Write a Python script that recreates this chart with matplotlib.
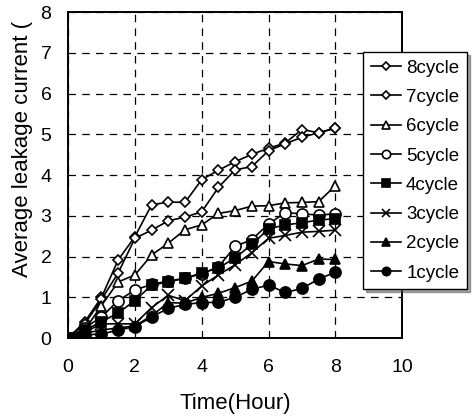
import numpy as np
import matplotlib.pyplot as plt

plt.rcParams['font.family'] = ['Liberation Sans', 'DejaVu Sans']

# Datos (tiempo en horas)
t = [0, 0.5, 1, 1.5, 2, 2.5, 3, 3.5, 4, 4.5, 5, 5.5, 6, 6.5, 7, 7.5, 8]
c8 = [0, 0.4, 1.0, 1.92, 2.49, 3.27, 3.34, 3.33, 3.89, 4.12, 4.33, 4.51, 4.66, 4.79, 5.12, 5.04, 5.16]
c7 = [0, 0.35, 0.95, 1.6, 2.45, 2.65, 2.88, 2.97, 3.1, 3.7, 4.13, 4.21, 4.6, 4.77, 4.93, 5.04, 5.15]
c6 = [0, 0.2, 0.8, 1.38, 1.55, 2.04, 2.33, 2.66, 2.78, 3.06, 3.13, 3.24, 3.25, 3.32, 3.33, 3.35, 3.74]
c5 = [0, 0.25, 0.52, 0.92, 1.18, 1.32, 1.4, 1.47, 1.58, 1.75, 2.25, 2.42, 2.8, 3.08, 3.05, 3.02, 3.05]
c4 = [0, 0.2, 0.4, 0.62, 0.92, 1.3, 1.38, 1.47, 1.6, 1.72, 1.97, 2.3, 2.68, 2.78, 2.83, 2.9, 2.93]
c3 = [0, 0.15, 0.35, 0.35, 0.35, 0.75, 1.05, 0.92, 1.28, 1.55, 1.8, 2.1, 2.45, 2.52, 2.6, 2.62, 2.65]
c2 = [0, 0.12, 0.2, 0.25, 0.3, 0.55, 0.87, 0.86, 1.0, 1.1, 1.24, 1.4, 1.88, 1.82, 1.78, 1.94, 1.93]
c1 = [0, 0.08, 0.1, 0.2, 0.28, 0.52, 0.73, 0.83, 0.87, 0.88, 1.0, 1.2, 1.3, 1.12, 1.22, 1.45, 1.62]
series = [c8, c7, c6, c5, c4, c3, c2, c1]
labels = ["8cycle", "7cycle", "6cycle", "5cycle", "4cycle", "3cycle", "2cycle", "1cycle"]

estilos = [  # (marker, fill)
    ("D", "white"), ("D", "white"), ("^", "white"), ("o", "white"),
    ("s", "black"), ("x", "black"), ("^", "black"), ("o", "black"),
]
tam = [5, 5, 7, 8, 7, 8, 7, 8]

fig = plt.figure(figsize=(4.76, 4.19), dpi=100)
ax = fig.add_axes([0.143, 0.193, 0.702, 0.778])

for y, lab, (m, fc), ms in zip(series, labels, estilos, tam):
    ax.plot(t, y, color="black", linewidth=1.2, marker=m, markersize=ms,
            markerfacecolor=fc, markeredgecolor="black", markeredgewidth=1.2,
            label=lab)

ax.set_xlim(0, 10)
ax.set_ylim(0, 8)
ax.set_xticks(np.arange(0, 11, 2))
ax.set_yticks(np.arange(0, 9, 1))
ax.tick_params(length=0, labelsize=14)
ax.tick_params(axis="x", pad=15)
ax.tick_params(axis="y", pad=12)
ax.grid(True, color="black", linestyle=(0, (6, 5)), linewidth=0.9)
for s in ax.spines.values():
    s.set_linewidth(1.4)

ax.set_xlabel("Time(Hour)", fontsize=16, labelpad=12)
fig.text(23 / 476, 1 - 149 / 419, "Average leakage current (", rotation=90,
         fontsize=16, ha="center", va="center")

leg = ax.legend(loc="upper left", bbox_to_anchor=(363 / 476, 1 - 52 / 419),
                bbox_transform=fig.transFigure, fontsize=13.5, frameon=True,
                fancybox=False, shadow=True, edgecolor="black",
                handlelength=1.6, handletextpad=0.3, labelspacing=0.65,
                borderaxespad=0, borderpad=0.4, markerscale=0.75)
leg.get_frame().set_linewidth(1.0)

fig.savefig("out.png", dpi=100)
